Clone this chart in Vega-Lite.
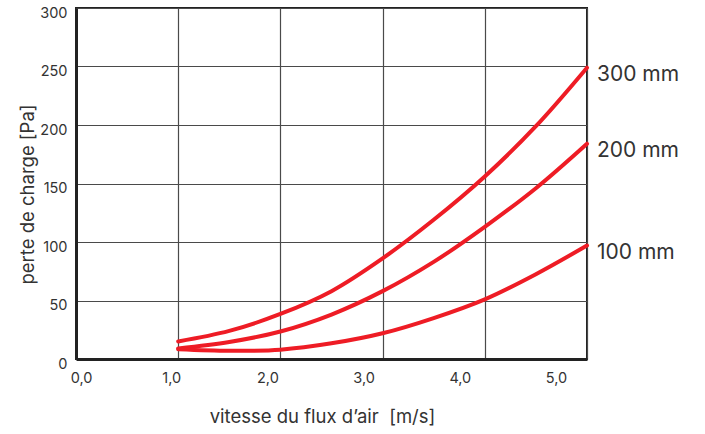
{
  "$schema": "https://vega.github.io/schema/vega-lite/v6.json",
  "width": 511,
  "height": 351,
  "autosize": {"type": "none"},
  "padding": {"left": 76, "top": 8, "right": 118, "bottom": 75},
  "background": "white",
  "config": {
    "view": {"stroke": "#222222", "strokeWidth": 2},
    "font": "Inter",
    "axis": {
      "gridColor": "#4a4a4a",
      "gridWidth": 1.2,
      "gridOpacity": 1,
      "domainColor": "#222222",
      "domainWidth": 3,
      "ticks": false,
      "labelColor": "#333333",
      "labelFontSize": 14.5,
      "labelFlush": false,
      "titleColor": "#333333",
      "titleFontSize": 18.5,
      "titleFontWeight": "normal"
    }
  },
  "data": {
    "values": [
      {"series": "300 mm", "v": 1.0, "p": 15},
      {"series": "300 mm", "v": 1.5, "p": 24},
      {"series": "300 mm", "v": 2.0, "p": 38.5},
      {"series": "300 mm", "v": 2.5, "p": 58},
      {"series": "300 mm", "v": 3.0, "p": 86},
      {"series": "300 mm", "v": 3.5, "p": 119},
      {"series": "300 mm", "v": 4.0, "p": 156},
      {"series": "300 mm", "v": 4.5, "p": 199},
      {"series": "300 mm", "v": 5.0, "p": 249},
      {"series": "200 mm", "v": 1.0, "p": 9},
      {"series": "200 mm", "v": 1.5, "p": 14.5},
      {"series": "200 mm", "v": 2.0, "p": 23.5},
      {"series": "200 mm", "v": 2.5, "p": 38},
      {"series": "200 mm", "v": 3.0, "p": 58},
      {"series": "200 mm", "v": 3.5, "p": 83},
      {"series": "200 mm", "v": 4.0, "p": 113},
      {"series": "200 mm", "v": 4.5, "p": 146},
      {"series": "200 mm", "v": 5.0, "p": 184},
      {"series": "100 mm", "v": 1.0, "p": 8.3},
      {"series": "100 mm", "v": 1.5, "p": 7},
      {"series": "100 mm", "v": 2.0, "p": 8},
      {"series": "100 mm", "v": 2.5, "p": 13.4},
      {"series": "100 mm", "v": 3.0, "p": 22},
      {"series": "100 mm", "v": 3.5, "p": 35},
      {"series": "100 mm", "v": 4.0, "p": 51},
      {"series": "100 mm", "v": 4.5, "p": 72.5},
      {"series": "100 mm", "v": 5.0, "p": 97}
    ]
  },
  "encoding": {
    "x": {
      "field": "v",
      "type": "quantitative",
      "scale": {"domain": [0, 5], "nice": false},
      "axis": {
        "values": [0, 1, 2, 3, 4, 5],
        "labelExpr": "replace(format(datum.value, '.1f'), '.', ',')",
        "labelPadding": 12,
        "labelOffset": {"expr": "datum.value == 0 ? 5 : -1 - 6 * datum.value"},
        "title": "vitesse du flux d’air\u00a0\u00a0[m/s]",
        "titleX": 246,
        "titleY": 57,
        "titleBaseline": "middle"
      }
    },
    "y": {
      "field": "p",
      "type": "quantitative",
      "scale": {"domain": [0, 300], "nice": false},
      "axis": {
        "values": [0, 50, 100, 150, 200, 250, 300],
        "labelPadding": 9,
        "labelOffset": 5,
        "title": "perte de charge [Pa]",
        "titleX": -49,
        "titleY": 186,
        "titleAngle": -90,
        "titleAlign": "center",
        "titleBaseline": "middle"
      }
    }
  },
  "layer": [
    {
      "mark": {"type": "line", "interpolate": "catmull-rom", "color": "#EE1C25", "strokeWidth": 4, "strokeCap": "round"},
      "encoding": {"detail": {"field": "series"}}
    },
    {
      "transform": [{"filter": "datum.v == 5"}],
      "mark": {"type": "text", "align": "left", "baseline": "middle", "dx": 10, "dy": 7, "fontSize": 21, "color": "#333333"},
      "encoding": {"text": {"field": "series"}}
    }
  ]
}
